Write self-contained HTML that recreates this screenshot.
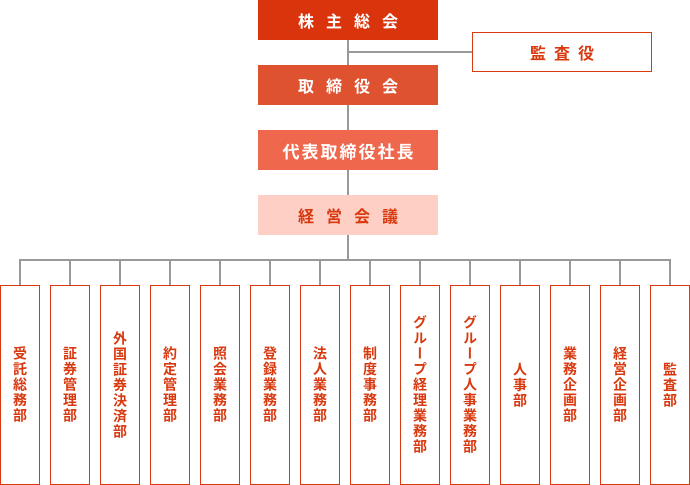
<!DOCTYPE html>
<html><head><meta charset="utf-8"><style>
body{margin:0;width:690px;height:485px;background:#fff;position:relative;overflow:hidden;font-family:"Liberation Sans","Noto Sans CJK JP",sans-serif;}
.b{position:absolute;box-sizing:border-box;display:flex;align-items:center;justify-content:center;font-weight:bold;font-size:16px;}
.t{left:258px;width:180px;height:40px;color:#fff;}
.l{position:absolute;background:#999;}
.d{position:absolute;top:285px;width:40px;height:200px;border:1.5px solid #d9390f;box-sizing:border-box;display:flex;align-items:center;justify-content:center;color:#d9390f;font-weight:bold;font-size:14px;writing-mode:vertical-rl;line-height:16px;letter-spacing:1.5px;}
</style></head><body>
<div class="l" style="left:347px;top:40px;width:2px;height:155px"></div>
<div class="l" style="left:347px;top:51px;width:126px;height:2px"></div>
<div class="l" style="left:347px;top:235px;width:2px;height:25px"></div>
<div class="l" style="left:19px;top:259px;width:652px;height:2px"></div>
<div class="b t" style="top:0;background:#d9340c;letter-spacing:12px;padding-left:12px">株主総会</div>
<div class="b" style="left:472px;top:32px;width:180px;height:40px;border:1.5px solid #d9390f;color:#d9390f;letter-spacing:8px;padding-left:8px">監査役</div>
<div class="b t" style="top:65px;background:#df5230;letter-spacing:12px;padding-left:12px">取締役会</div>
<div class="b t" style="top:130px;background:#ef684d;font-size:17px;letter-spacing:2px;padding-left:2px">代表取締役社長</div>
<div class="b t" style="top:195px;background:#fdcfc5;color:#d9390f;letter-spacing:12px;padding-left:12px">経営会議</div>
<div id="deps"></div>
<script>
var n=["受託総務部","証券管理部","外国証券決済部","約定管理部","照会業務部","登録業務部","法人業務部","制度事務部","グループ経理業務部","グループ人事業務部","人事部","業務企画部","経営企画部","監査部"];
var h="";
for(var i=0;i<14;i++){var x=i*50;h+='<div class="l" style="left:'+(x+19)+'px;top:259px;width:2px;height:26px"></div><div class="d" style="left:'+x+'px">'+n[i]+'</div>';}
document.getElementById("deps").innerHTML=h;
</script>
</body></html>
